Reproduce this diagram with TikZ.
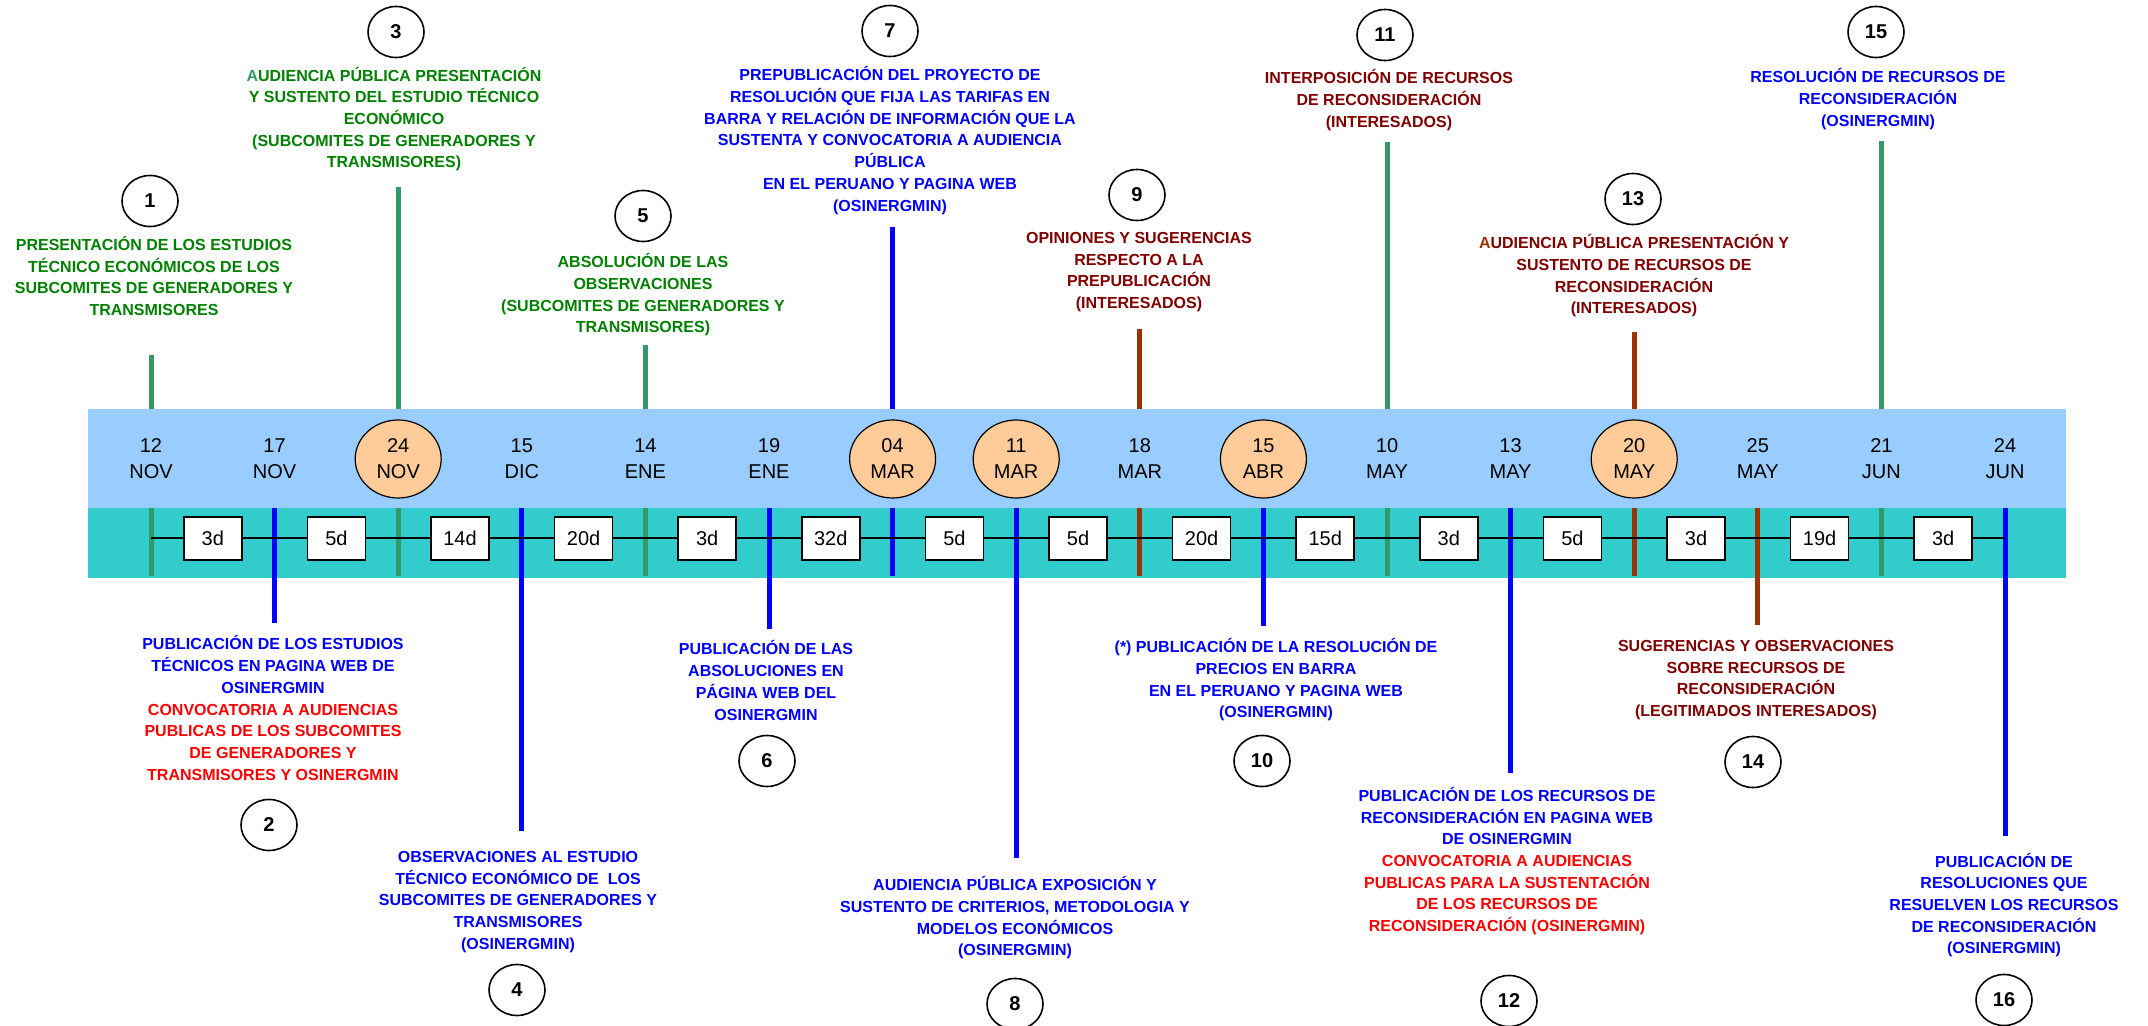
\documentclass[tikz,border=0pt]{standalone}
\usepackage{fontspec}
\setmainfont{Liberation Sans}
\usetikzlibrary{shapes.geometric}
\definecolor{gtxt}{RGB}{0,128,0}
\definecolor{gln}{RGB}{51,153,102}
\definecolor{btxt}{RGB}{0,0,255}
\definecolor{mtxt}{RGB}{128,0,0}
\definecolor{brln}{RGB}{153,51,0}
\definecolor{rtxt}{RGB}{255,0,0}
\definecolor{lband}{RGB}{153,204,255}
\definecolor{tband}{RGB}{51,204,204}
\definecolor{peach}{RGB}{255,204,153}
\newcommand{\rl}[1]{\textcolor{rtxt}{#1}}
\begin{document}
\begin{tikzpicture}[x=0.5pt,y=-0.5pt,
  lab/.style={font=\fontsize{8}{10.85}\selectfont\bfseries, align=center, inner sep=0pt},
  datelab/.style={font=\fontsize{10}{13}\selectfont, align=center, inner sep=0pt},
  hl/.style={datelab, ellipse, draw, fill=peach, line width=0.6pt, minimum width=43pt, minimum height=39pt},
  dbox/.style={draw, fill=white, line width=0.75pt, minimum width=29pt, minimum height=21.5pt, inner sep=0pt, font=\fontsize{10}{12}\selectfont},
  num/.style={ellipse, draw, line width=0.8pt, minimum width=28pt, minimum height=25.5pt, inner sep=0pt, font=\fontsize{10}{12}\selectfont\bfseries},
  mk/.style={line width=2.5pt}]
\useasboundingbox (0,0) rectangle (2148,1026);
\clip (0,0) rectangle (2148,1026);

% teal band
\fill[tband] (88,508) rectangle (2066,578);

% column coordinates
\foreach \i in {1,...,16} {
  \coordinate (col\i) at ({151+123.6*(\i-1)},538);
}

% markers for events above the bands
\foreach \i/\y/\c in {1/355/gln,3/187/gln,5/345/gln,7/227/btxt,9/329/brln,11/142/gln,13/332/brln,15/141/gln} {
  \coordinate (mt\i) at ({151+123.6*(\i-1)},\y);
  \coordinate (mb\i) at ({151+123.6*(\i-1)},576);
  \draw[mk,\c] (mt\i) -- (mb\i);
}
% markers for events below the bands
\foreach \i/\y/\c in {2/623/btxt,4/831/btxt,6/629/btxt,8/858/btxt,10/626/btxt,12/773/btxt,14/625/brln,16/836/btxt} {
  \coordinate (mt\i) at ({151+123.6*(\i-1)},508);
  \coordinate (mb\i) at ({151+123.6*(\i-1)},\y);
  \draw[mk,\c] (mt\i) -- (mb\i);
}

% light blue band
\fill[lband] (88,409) rectangle (2066,508);

% time line
\draw[line width=0.75pt] (col1) -- (col16);

% duration boxes
\foreach \i/\t in {1/3d,2/5d,3/14d,4/20d,5/3d,6/32d,7/5d,8/5d,9/20d,10/15d,11/3d,12/5d,13/3d,14/19d,15/3d} {
  \node[dbox] (b\i) at ({151+123.6*(\i-0.5)},538.5) {\t};
}

% dates
\node[datelab] (d1) at (151,459) {12\\NOV};
\node[datelab] (d2) at (274.6,459) {17\\NOV};
\node[hl] (d3) at (398.2,459) {24\\NOV};
\node[datelab] (d4) at (521.8,459) {15\\DIC};
\node[datelab] (d5) at (645.4,459) {14\\ENE};
\node[datelab] (d6) at (769,459) {19\\ENE};
\node[hl] (d7) at (892.6,459) {04\\MAR};
\node[hl] (d8) at (1016.2,459) {11\\MAR};
\node[datelab] (d9) at (1139.8,459) {18\\MAR};
\node[hl] (d10) at (1263.4,459) {15\\ABR};
\node[datelab] (d11) at (1387,459) {10\\MAY};
\node[datelab] (d12) at (1510.6,459) {13\\MAY};
\node[hl] (d13) at (1634.2,459) {20\\MAY};
\node[datelab] (d14) at (1757.8,459) {25\\MAY};
\node[datelab] (d15) at (1881.4,459) {21\\JUN};
\node[datelab] (d16) at (2005,459) {24\\JUN};

% events above
\node[num] (c1) at (150,201) {1};
\node[lab,text=gtxt] (t1) at (154,276) {PRESENTACIÓN DE LOS ESTUDIOS\\TÉCNICO ECONÓMICOS DE LOS\\SUBCOMITES DE GENERADORES Y\\TRANSMISORES};
\node[num] (c3) at (396,32) {3};
\node[lab,text=gtxt] (t3) at (394,119) {\textcolor{gln}{A}UDIENCIA PÚBLICA PRESENTACIÓN\\Y SUSTENTO DEL ESTUDIO TÉCNICO\\ECONÓMICO\\(SUBCOMITES DE GENERADORES Y\\TRANSMISORES)};
\node[num] (c5) at (643,216) {5};
\node[lab,text=gtxt] (t5) at (643,295) {ABSOLUCIÓN DE LAS\\OBSERVACIONES\\(SUBCOMITES DE GENERADORES Y\\TRANSMISORES)};
\node[num] (c7) at (890,31) {7};
\node[lab,text=btxt] (t7) at (890,140.5) {PREPUBLICACIÓN DEL PROYECTO DE\\RESOLUCIÓN QUE FIJA LAS TARIFAS EN\\BARRA Y RELACIÓN DE INFORMACIÓN QUE LA\\SUSTENTA Y CONVOCATORIA A AUDIENCIA\\PÚBLICA\\EN EL PERUANO Y PAGINA WEB\\(OSINERGMIN)};
\node[num] (c9) at (1137,195) {9};
\node[lab,text=mtxt] (t9) at (1139,272) {OPINIONES Y SUGERENCIAS\\RESPECTO A LA\\PREPUBLICACIÓN\\(INTERESADOS)};
\node[num] (c11) at (1385,35) {11};
\node[lab,text=mtxt] (t11) at (1389,100) {INTERPOSICIÓN DE RECURSOS\\DE RECONSIDERACIÓN\\(INTERESADOS)};
\node[num] (c13) at (1633,199) {13};
\node[lab,text=mtxt] (t13) at (1634,276) {\textcolor{brln}{A}UDIENCIA PÚBLICA PRESENTACIÓN Y\\SUSTENTO DE RECURSOS DE\\RECONSIDERACIÓN\\(INTERESADOS)};
\node[num] (c15) at (1876,32) {15};
\node[lab,text=btxt] (t15) at (1878,99) {RESOLUCIÓN DE RECURSOS DE\\RECONSIDERACIÓN\\(OSINERGMIN)};

% events below
\node[lab,text=btxt] (t2) at (273,708) {PUBLICACIÓN DE LOS ESTUDIOS\\TÉCNICOS EN PAGINA WEB DE\\OSINERGMIN\\\rl{CONVOCATORIA A AUDIENCIAS}\\\rl{PUBLICAS DE LOS SUBCOMITES}\\\rl{DE GENERADORES Y}\\\rl{TRANSMISORES Y OSINERGMIN}};
\node[num] (c2) at (269,825) {2};
\node[lab,text=btxt] (t4) at (518,902) {OBSERVACIONES AL ESTUDIO\\TÉCNICO ECONÓMICO DE\ \ LOS\\SUBCOMITES DE GENERADORES Y\\TRANSMISORES\\(OSINERGMIN)};
\node[num] (c4) at (517,990) {4};
\node[lab,text=btxt] (t6) at (766,680.5) {PUBLICACIÓN DE LAS\\ABSOLUCIONES EN\\PÁGINA WEB DEL\\OSINERGMIN};
\node[num] (c6) at (767,761) {6};
\node[lab,text=btxt] (t8) at (1015,918) {AUDIENCIA PÚBLICA EXPOSICIÓN Y\\SUSTENTO DE CRITERIOS, METODOLOGIA Y\\MODELOS ECONÓMICOS\\(OSINERGMIN)};
\node[num] (c8) at (1015,1004) {8};
\node[lab,text=btxt] (t10) at (1276,680) {(*) PUBLICACIÓN DE LA RESOLUCIÓN DE\\PRECIOS EN BARRA\\EN EL PERUANO Y PAGINA WEB\\(OSINERGMIN)};
\node[num] (c10) at (1262,761) {10};
\node[lab,text=btxt] (t12) at (1507,861) {PUBLICACIÓN DE LOS RECURSOS DE\\RECONSIDERACIÓN EN PAGINA WEB\\DE OSINERGMIN\\\rl{CONVOCATORIA A AUDIENCIAS}\\\rl{PUBLICAS PARA LA SUSTENTACIÓN}\\\rl{DE LOS RECURSOS DE}\\\rl{RECONSIDERACIÓN (OSINERGMIN)}};
\node[num] (c12) at (1509,1001) {12};
\node[lab,text=mtxt] (t14) at (1756,680) {SUGERENCIAS Y OBSERVACIONES\\SOBRE RECURSOS DE\\RECONSIDERACIÓN\\(LEGITIMADOS INTERESADOS)};
\node[num] (c14) at (1753,762) {14};
\node[lab,text=btxt] (t16) at (2004,905) {PUBLICACIÓN DE\\RESOLUCIONES QUE\\RESUELVEN LOS RECURSOS\\DE RECONSIDERACIÓN\\(OSINERGMIN)};
\node[num] (c16) at (2004,1000) {16};
\end{tikzpicture}
\end{document}
